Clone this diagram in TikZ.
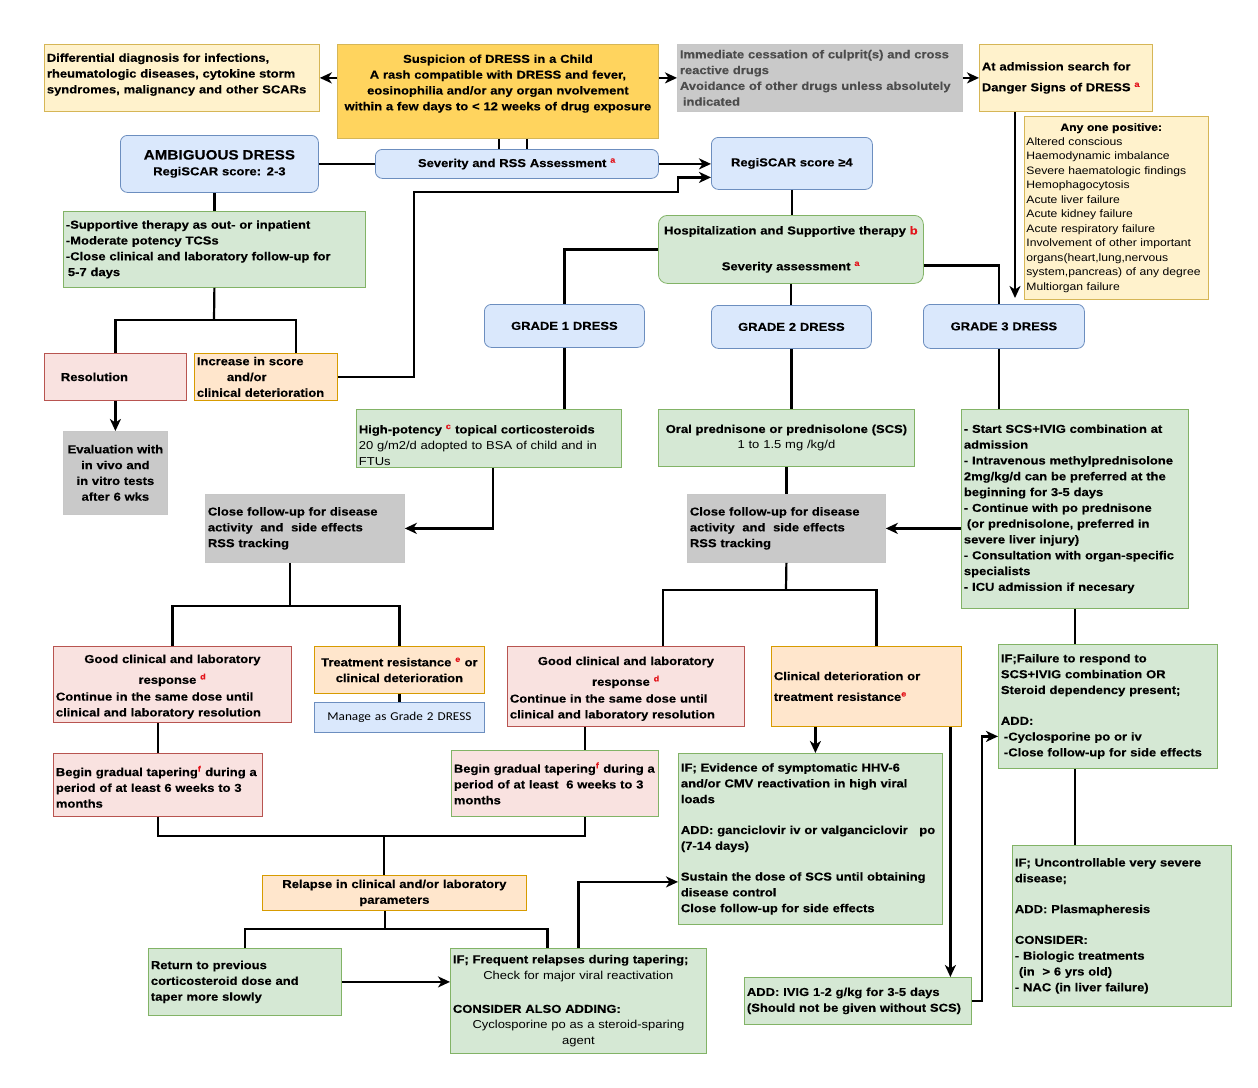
\documentclass[tikz,border=0pt]{standalone}
\usepackage{fontspec}
\setmainfont{Liberation Sans}[FakeStretch=1.13, BoldFeatures={FakeBold=0.3}]
\newfontfamily\calib{Carlito}[FakeStretch=1.1]
\usepackage{tikz}
\usetikzlibrary{arrows.meta}

\definecolor{ylwF}{HTML}{FFF2CC}
\definecolor{ylwD}{HTML}{D6B656}
\definecolor{goldF}{HTML}{FFD45E}
\definecolor{gryF}{HTML}{C9C9C9}
\definecolor{bluF}{HTML}{DAE8FC}
\definecolor{bluD}{HTML}{6C8EBF}
\definecolor{grnF}{HTML}{D5E8D4}
\definecolor{grnD}{HTML}{82B366}
\definecolor{pnkF}{HTML}{F9E2E0}
\definecolor{pnkD}{HTML}{B85450}
\definecolor{orgF}{HTML}{FFE6CC}
\definecolor{orgD}{HTML}{D79B00}
\definecolor{supred}{HTML}{E3141B}

\newcommand{\boxfont}{\fontsize{11.5}{15.8}\selectfont}
\newcommand{\redsup}[1]{\textsuperscript{\textcolor{supred}{#1}}}
\newcommand{\midline}[1]{\hspace*{\fill}{#1}\hspace*{\fill}\mbox{}}
\newcommand{\padbelow}[1]{\rule[-#1]{0pt}{#1}}
\newcommand{\padabove}[1]{\rule{0pt}{#1}}

\begin{document}
\begin{tikzpicture}[x=1pt, y=-1pt,
    every node/.style={anchor=north west, inner xsep=2.5pt, inner ysep=2pt, align=left, line width=0.8pt, font=\boxfont\bfseries},
    sz/.style 2 args={minimum width=#1pt, minimum height=#2pt, /utils/exec={\pgfmathsetlengthmacro\boxtw{#1-5}}, text width=\boxtw},
    ylw/.style={draw=ylwD, fill=ylwF},
    gold/.style={draw=ylwD, fill=goldF},
    gry/.style={draw=black!22, fill=gryF},
    blu/.style={draw=bluD, fill=bluF, rounded corners=7pt},
    bluq/.style={draw=bluD, fill=bluF},
    grn/.style={draw=grnD, fill=grnF},
    grnr/.style={grn, rounded corners=9pt},
    pnk/.style={draw=pnkD, fill=pnkF},
    org/.style={draw=orgD, fill=orgF},
    ln/.style={line width=2.2pt},
    arr/.style={ln, -{Stealth[length=12pt, width=11pt, inset=3.5pt]}}]

    \fill[white] (0,0) rectangle (1258,1087);
    \useasboundingbox (0,0) rectangle (1258,1087);

    % top row
    \node[ylw, sz={275}{67}] (diffdx) at (44,44) {Differential diagnosis for infections,\\rheumatologic diseases, cytokine storm\\syndromes, malignancy and other SCARs\padbelow{9pt}};
    \node[gold, sz={321}{94}, align=center] (susp) at (337,44) {Suspicion of DRESS in a Child\\A rash compatible with DRESS and fever,\\eosinophilia and/or any organ nvolvement\\within a few days to < 12 weeks of drug exposure\padbelow{18pt}};
    \node[gry, sz={285}{67}, text=black!70] (cess) at (677,44) {Immediate cessation of culprit(s) and cross\\reactive drugs\\Avoidance of other drugs unless absolutely\\\hspace*{3pt}indicated};
    \node[ylw, sz={173}{67}] (adm) at (979,44) {At admission search for\\[5pt]Danger Signs of DRESS \redsup{a}};
    \node[ylw, sz={183}{183}, text width=180pt, inner xsep=2pt, font=\fontsize{10.75}{14.5}\selectfont] (danger) at (1024,116) {\hspace*{34pt}\textbf{Any one positive:}\\Altered conscious\\Haemodynamic imbalance\\Severe haematologic findings\\Hemophagocytosis\\Acute liver failure\\Acute kidney failure\\Acute respiratory failure\\Involvement of other important\\organs(heart,lung,nervous\\system,pancreas) of any degree\\Multiorgan failure};

    \node[blu, sz={198}{57}, align=center] (ambig) at (120,135) {{\fontsize{13.5}{17}\selectfont AMBIGUOUS DRESS}\\RegiSCAR score: 2-3};
    \node[blu, sz={283}{29}, align=center] (sevrss) at (375,149) {Severity and RSS Assessment \redsup{a}};
    \node[blu, sz={161}{52}, align=center] (reg4) at (711,137) {RegiSCAR score ≥4};

    % ambiguous branch
    \node[grn, sz={302}{76}] (supp) at (63,211) {-Supportive therapy as out- or inpatient\\-Moderate potency TCSs\\-Close clinical and laboratory follow-up for\\\hspace*{2pt}5-7 days};
    \node[pnk, sz={142}{47}] (resol) at (44,353) {\hspace*{14pt}Resolution};
    \node[org, sz={143}{47}] (incr) at (194,353) {Increase in score\\\hspace*{30pt}and/or\\clinical deterioration};
    \node[gry, sz={104}{83}, text width=100pt, inner xsep=2pt, align=center] (evalb) at (63,431) {Evaluation with\\in vivo and\\in vitro tests\\after 6 wks};

    % grading
    \node[grnr, sz={265}{68}, align=center] (hosp) at (658,215) {Hospitalization and Supportive therapy \textcolor{supred}{b}\\[20pt]Severity assessment \redsup{a}};
    \node[blu, sz={160}{43}, align=center] (g1) at (484,304) {GRADE 1 DRESS};
    \node[blu, sz={160}{43}, align=center] (g2) at (711,305) {GRADE 2 DRESS};
    \node[blu, sz={161}{44}, align=center] (g3) at (923,304) {GRADE 3 DRESS};

    \node[grn, sz={265}{57}] (hipot) at (356,409) {\padabove{22pt}High-potency \redsup{c} topical corticosteroids\\\mdseries 20 g/m2/d adopted to BSA of child and in\\FTUs};
    \node[grn, sz={256}{57}, align=center] (oral) at (658,409) {Oral prednisone or prednisolone (SCS)\\\mdseries 1 to 1.5 mg /kg/d};
    \node[grn, sz={227}{199}] (scs) at (961,409) {- Start SCS+IVIG combination at\\admission\\- Intravenous methylprednisolone\\2mg/kg/d can be preferred at the\\beginning for 3-5 days\\- Continue with po prednisone\\\hspace*{3pt}(or prednisolone, preferred in\\severe liver injury)\\- Consultation with organ-specific\\specialists\\- ICU admission if necesary};

    \node[gry, sz={199}{68}] (cfu1) at (205,494) {Close follow-up for disease\\activity\ \ and\ \ side effects\\RSS tracking};
    \node[gry, sz={198}{68}] (cfu2) at (687,494) {Close follow-up for disease\\activity\ \ and\ \ side effects\\RSS tracking};

    % responses
    \node[pnk, sz={238}{76}] (good1) at (53,646) {\padabove{13pt}\midline{Good clinical and laboratory}\\[5pt]\midline{response \redsup{d}}\\[1pt]Continue in the same dose until\\clinical and laboratory resolution};
    \node[org, sz={170}{47}, align=center] (treat) at (314,646) {Treatment resistance \redsup{e} or\\clinical deterioration};
    \node[bluq, sz={170}{30}, align=center, font=\calib\fontsize{12}{14}\selectfont] (manage) at (314,702) {Manage as Grade 2 DRESS};
    \node[pnk, sz={237}{80}] (good2) at (507,646) {\padabove{13pt}\midline{Good clinical and laboratory}\\[5pt]\midline{response \redsup{d}}\\[1pt]Continue in the same dose until\\clinical and laboratory resolution};
    \node[org, sz={190}{80}] (clindet) at (771,646) {Clinical deterioration or\\[5pt]treatment resistance\redsup{e}};

    \node[pnk, sz={209}{63}] (taper1) at (53,753) {\padabove{14pt}Begin gradual tapering\redsup{f} during a\\period of at least 6 weeks to 3\\months};
    \node[pnk, draw=grnD, sz={207}{66}] (taper2) at (451,750) {Begin gradual tapering\redsup{f} during a\\period of at least\ \ 6 weeks to 3\\months};
    \node[grn, sz={264}{171}] (ifhhv) at (678,753) {IF; Evidence of symptomatic HHV-6\\and/or CMV reactivation in high viral\\loads\\[15pt]ADD: ganciclovir iv or valganciclovir\ \ \ po\\(7-14 days)\\[15pt]Sustain the dose of SCS until obtaining\\disease control\\Close follow-up for side effects};
    \node[grn, sz={219}{124}] (iffail) at (998,644) {IF;Failure to respond to\\SCS+IVIG combination OR\\Steroid dependency present;\\[15pt]ADD:\\\hspace*{3pt}-Cyclosporine po or iv\\\hspace*{3pt}-Close follow-up for side effects};
    \node[grn, sz={219}{161}] (uncon) at (1012,845) {IF; Uncontrollable very severe\\disease;\\[15pt]ADD: Plasmapheresis\\[15pt]CONSIDER:\\- Biologic treatments\\\hspace*{4pt}(in\ \ > 6 yrs old)\\- NAC (in liver failure)};

    % relapse
    \node[org, sz={264}{35}, inner ysep=0.5pt, align=center] (relapse) at (262,875) {Relapse in clinical and/or laboratory\\parameters};
    \node[grn, sz={193}{67}] (ret) at (148,948) {Return to previous\\corticosteroid dose and\\taper more slowly};
    \node[grn, sz={256}{105}] (iffreq) at (450,948) {IF; Frequent relapses during tapering;\\\midline{\mdseries Check for major viral reactivation}\\[18pt]CONSIDER ALSO ADDING:\\\midline{\mdseries Cyclosporine po as a steroid-sparing}\\\midline{\mdseries agent}};
    \node[grn, sz={227}{47}] (ivig) at (744,977) {ADD: IVIG 1-2 g/kg for 3-5 days\\(Should not be given without SCS)};

    \coordinate (dtip) at (1015,298);
    \coordinate (j1) at (214,320);
    \coordinate (t1) at (290,606);
    \coordinate (t2) at (786,590);
    \coordinate (t3) at (384,836);
    \coordinate (t4) at (385,929);

    % connectors
    \draw[arr] (susp.west |- diffdx.east) -- (diffdx.east);
    \draw[arr] (susp.east |- cess.west) -- (cess.west);
    \draw[arr] (cess.east) -- (adm.west);
    \draw[arr] (adm.south -| dtip) -- (dtip);
    \draw[ln] (ambig) -- (sevrss);
    \draw[ln] ([xshift=1pt]susp.south) -- ([xshift=1pt]susp.south |- sevrss.north);
    \draw[ln] ([xshift=29pt]susp.south) -- ([xshift=29pt]susp.south |- sevrss.north);
    \draw[arr] (sevrss.east) -- (sevrss.east -| reg4.west);
    \draw[arr] (incr.east) -- ++(76,0) |- (678,192) |- ([yshift=-14pt]reg4.west);

    \draw[ln] (ambig.south -| supp.north) -- (supp.north);
    \draw[ln] (supp.south) -- (j1);
    \draw[ln] (resol.north) |- (j1) -| ([xshift=30pt]incr.north);
    \draw[arr] (resol.south) -- (resol.south |- evalb.north);

    \draw[ln] (reg4.south) -- (reg4.south |- hosp.north);
    \draw[ln] (hosp.west) -| (g1.north);
    \draw[ln] (hosp.south) -- (hosp.south |- g2.north);
    \draw[ln] ([yshift=-16pt]hosp.east) -| ([xshift=-5pt]g3.north);
    \draw[ln] (g1.south) -- (g1.south |- hipot.north);
    \draw[ln] (g2.south) -- (g2.south |- oral.north);
    \draw[ln] ([xshift=-5pt]g3.south) -- ([xshift=-5pt]g3.south |- scs.north);

    \draw[arr] ([xshift=4pt]hipot.south) |- (cfu1.east);
    \draw[ln] (oral.south) -- (oral.south |- cfu2.north);
    \draw[arr] (scs.west |- cfu2.east) -- (cfu2.east);

    \draw[ln] (t1 |- cfu1.south) -- (t1);
    \draw[ln] (good1.north) |- (t1) -| (treat.north);
    \draw[ln] (treat.south) -- (manage.north);
    \draw[ln] (cfu2.south) -- (t2);
    \draw[ln] ([xshift=37pt]good2.north) |- (t2) -| ([xshift=10pt]clindet.north);

    \draw[ln] (taper1.north |- good1.south) -- (taper1.north);
    \draw[ln] ([xshift=30pt]taper2.north |- good2.south) -- ([xshift=30pt]taper2.north);
    \draw[ln] (taper1.south) |- (t3) -| ([xshift=30pt]taper2.south);
    \draw[ln] (t3) -- (t3 |- relapse.north);

    \draw[arr] ([xshift=-51pt]clindet.south) -- ([xshift=-51pt]clindet.south |- ifhhv.north);
    \draw[arr] ([xshift=84pt]clindet.south) -- ([xshift=84pt]clindet.south |- ivig.north);
    \draw[arr] (ivig.east) -- ++(10,0) |- ([yshift=-30pt]iffail.west);
    \draw[ln] (scs.south) -- (scs.south |- iffail.north);
    \draw[ln] (scs.south |- iffail.south) -- (scs.south |- uncon.north);

    \draw[ln] (t4 |- relapse.south) -- (t4);
    \draw[ln] (ret.north) |- (t4) -| ([xshift=-31pt]iffreq.north);
    \draw[arr] (ret.east) -- (ret.east -| iffreq.west);
    \draw[arr] (iffreq.north) |- ([yshift=-43pt]ifhhv.west);
\end{tikzpicture}
\end{document}
